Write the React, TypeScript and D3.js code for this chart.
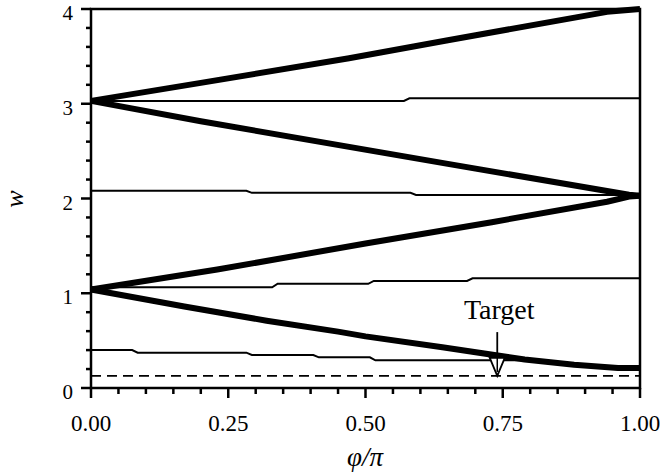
import React from "react";
import * as d3 from "d3";

// thick V-shaped branches
const thickBottom: [number, number][] = [
  [0, 1.04], [0.17, 0.86], [0.32, 0.71], [0.45, 0.595], [0.5, 0.545],
  [0.64, 0.43], [0.79, 0.3], [0.88, 0.245], [0.96, 0.21], [1, 0.21],
];
const thickLowUp: [number, number][] = [
  [0, 1.04], [0.23, 1.25], [0.5, 1.525], [0.73, 1.75], [0.94, 1.966], [0.98, 2.02], [1, 2.03],
];
const thickHighDown: [number, number][] = [
  [0, 3.03], [0.2, 2.815], [0.65, 2.365], [0.98, 2.04], [1, 2.03],
];
const thickTop: [number, number][] = [
  [0, 3.03], [0.2, 3.22], [0.47, 3.48], [0.65, 3.67], [0.94, 3.97], [1, 4.0],
];

// thin stepped lines
const thin3: [number, number][] = [
  [0, 3.03], [0.57, 3.03], [0.58, 3.057], [1, 3.057],
];
const thin2: [number, number][] = [
  [0, 2.082], [0.283, 2.082], [0.293, 2.06], [0.582, 2.06], [0.592, 2.037], [1, 2.037],
];
const thin1: [number, number][] = [
  [0, 1.063], [0.33, 1.063], [0.34, 1.1], [0.505, 1.1], [0.515, 1.13],
  [0.685, 1.13], [0.695, 1.158], [1, 1.158],
];
const thin0: [number, number][] = [
  [0, 0.4], [0.075, 0.4], [0.085, 0.373], [0.283, 0.373], [0.293, 0.348],
  [0.405, 0.348], [0.415, 0.324], [0.508, 0.324], [0.518, 0.292], [0.82, 0.292],
];

const targetLevel = 0.127;
const targetPhi = 0.74;
const arrowTop = 0.59;

const xMajor = [0, 0.25, 0.5, 0.75, 1];
const xTickLabels = ["0.00", "0.25", "0.50", "0.75", "1.00"];
const yMajor = [0, 1, 2, 3, 4];
const yTickLabels = ["0", "1", "2", "3", "4"];

const W = 662;
const H = 476;

export default function App() {
  const x = d3.scaleLinear().domain([0, 1]).range([91, 640]);
  const y = d3.scaleLinear().domain([0, 4]).range([388, 9]);
  const line = d3
    .line<[number, number]>()
    .x((d) => x(d[0]))
    .y((d) => y(d[1]));

  const xMinor = d3.range(0, 1.0001, 0.05).filter((v) => Math.abs(v * 4 - Math.round(v * 4)) > 1e-6);
  const yMinor = d3.range(0, 4.0001, 0.2).filter((v) => Math.abs(v - Math.round(v)) > 1e-6);

  const txt = { fontFamily: "Liberation Serif, DejaVu Serif, serif" };
  const tipX = x(targetPhi);
  const tipY = y(targetLevel);

  return (
    <div style={{ position: "absolute", left: 0, top: 0 }}>
      <svg width={W} height={H} style={{ display: "block", background: "#fff" }}>
        {/* dashed target level */}
        <line
          x1={x(0)} x2={x(1)} y1={y(targetLevel)} y2={y(targetLevel)}
          stroke="#000" strokeWidth={1.8} strokeDasharray="10,6"
        />
        {/* thin lines */}
        {[thin0, thin1, thin2, thin3].map((d, i) => (
          <path key={"t" + i} d={line(d) || ""} fill="none" stroke="#000" strokeWidth={2} />
        ))}
        {/* thick lines */}
        {[thickBottom, thickLowUp, thickHighDown, thickTop].map((d, i) => (
          <path key={"k" + i} d={line(d) || ""} fill="none" stroke="#000" strokeWidth={6} strokeLinejoin="round" />
        ))}

        {/* Target arrow */}
        <line x1={tipX} x2={tipX} y1={y(arrowTop)} y2={tipY - 18} stroke="#000" strokeWidth={1.8} />
        <path
          d={`M${tipX - 7.5},${tipY - 18} L${tipX + 7.5},${tipY - 18} L${tipX},${tipY} Z`}
          fill="#fff" stroke="#000" strokeWidth={1.8}
        />
        <line x1={tipX} x2={tipX} y1={tipY - 18} y2={tipY - 4} stroke="#000" strokeWidth={1.5} />
        <text x={tipX + 2} y={319} textAnchor="middle" style={txt} fontSize={28}>
          Target
        </text>

        {/* frame */}
        <rect x={x(0)} y={y(4)} width={x(1) - x(0)} height={y(0) - y(4)} fill="none" stroke="#000" strokeWidth={2.5} />

        {/* y ticks */}
        {yMajor.map((v) => (
          <line key={"ym" + v} x1={x(0) - 10} x2={x(0)} y1={y(v)} y2={y(v)} stroke="#000" strokeWidth={2.5} />
        ))}
        {yMinor.map((v) => (
          <line key={"yn" + v} x1={x(0) - 5} x2={x(0)} y1={y(v)} y2={y(v)} stroke="#000" strokeWidth={2.5} />
        ))}
        {yMajor.map((v, i) => (
          <text key={"yl" + v} x={73} y={y(v) + 11} textAnchor="end" style={txt} fontSize={21}>
            {yTickLabels[i]}
          </text>
        ))}

        {/* x ticks */}
        {xMajor.map((v) => (
          <line key={"xm" + v} x1={x(v)} x2={x(v)} y1={y(0)} y2={y(0) + 10} stroke="#000" strokeWidth={2.5} />
        ))}
        {xMinor.map((v) => (
          <line key={"xn" + v} x1={x(v)} x2={x(v)} y1={y(0)} y2={y(0) + 6} stroke="#000" strokeWidth={2.5} />
        ))}
        {xMajor.map((v, i) => (
          <text key={"xl" + v} x={x(v)} y={431} textAnchor="middle" style={txt} fontSize={23}>
            {xTickLabels[i]}
          </text>
        ))}

        {/* axis titles */}
        <text x={365} y={466} textAnchor="middle" style={txt} fontSize={27} fontStyle="italic">
          φ/π
        </text>
        <text
          transform="translate(17,199) rotate(-90)"
          textAnchor="middle" dominantBaseline="middle" style={txt} fontSize={26} fontStyle="italic"
        >
          w
        </text>
      </svg>
    </div>
  );
}
